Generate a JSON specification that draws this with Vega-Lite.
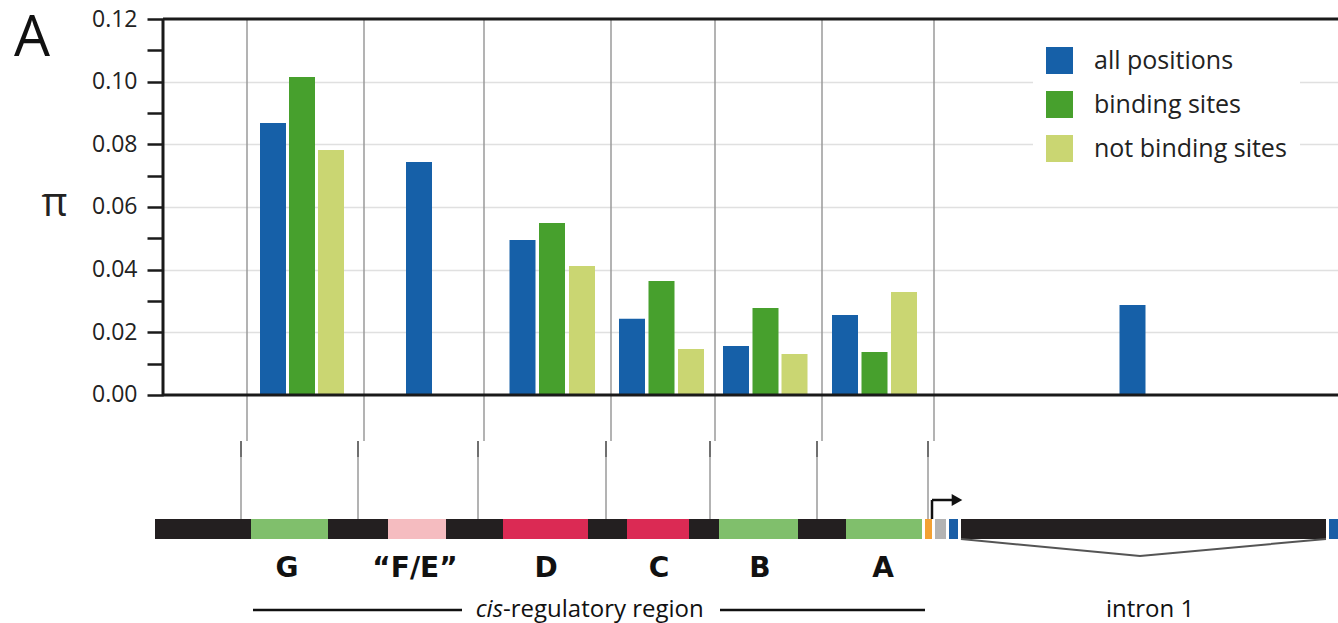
{
  "$schema": "https://vega.github.io/schema/vega-lite/v6.json",
  "autosize": {"type": "none"},
  "padding": {"left": 163, "top": 19, "right": 0, "bottom": 0},
  "width": 1177,
  "height": 604,
  "background": "white",
  "config": {"view": {"stroke": null}, "font": "Open Sans"},
  "resolve": {"scale": {"y": "independent", "color": "independent"}, "legend": {"color": "independent"}},
  "layer": [
    {
      "data": {"values": [
        {"u": 84, "d0": 0, "d1": 422}, {"u": 201, "d0": 0, "d1": 422}, {"u": 321, "d0": 0, "d1": 422}, {"u": 448, "d0": 0, "d1": 422}, {"u": 552, "d0": 0, "d1": 422}, {"u": 659, "d0": 0, "d1": 422}, {"u": 771, "d0": 0, "d1": 422},
        {"u": 78, "d0": 422, "d1": 500}, {"u": 195, "d0": 422, "d1": 500}, {"u": 315, "d0": 422, "d1": 500}, {"u": 443, "d0": 422, "d1": 500}, {"u": 547, "d0": 422, "d1": 500}, {"u": 654, "d0": 422, "d1": 500}, {"u": 765, "d0": 422, "d1": 500}
      ]},
      "mark": {"type": "rule", "color": "#9a9a9a", "strokeWidth": 1.5},
      "encoding": {
        "x": {"field": "u", "type": "quantitative", "scale": {"domain": [0, 1177], "padding": 0, "nice": false}, "axis": null},
        "y": {"field": "d0", "type": "quantitative", "scale": {"domain": [0, 604], "reverse": true, "nice": false}, "axis": null},
        "y2": {"field": "d1"}
      }
    },
    {
      "data": {"values": [
        {"u": 78, "d0": 422, "d1": 438}, {"u": 195, "d0": 422, "d1": 438}, {"u": 315, "d0": 422, "d1": 438}, {"u": 443, "d0": 422, "d1": 438}, {"u": 547, "d0": 422, "d1": 438}, {"u": 654, "d0": 422, "d1": 438}, {"u": 765, "d0": 422, "d1": 438}
      ]},
      "mark": {"type": "rule", "color": "#5a5a5a", "strokeWidth": 1.5},
      "encoding": {
        "x": {"field": "u", "type": "quantitative", "scale": {"domain": [0, 1177], "padding": 0, "nice": false}, "axis": null},
        "y": {"field": "d0", "type": "quantitative", "scale": {"domain": [0, 604], "reverse": true, "nice": false}, "axis": null},
        "y2": {"field": "d1"}
      }
    },
    {
      "data": {"values": [
        {"region": "G", "series": "all positions", "pi": 0.0868, "u": 110},
        {"region": "G", "series": "binding sites", "pi": 0.1015, "u": 139},
        {"region": "G", "series": "not binding sites", "pi": 0.0782, "u": 168},
        {"region": "F/E", "series": "all positions", "pi": 0.0744, "u": 256},
        {"region": "D", "series": "all positions", "pi": 0.0495, "u": 359.5},
        {"region": "D", "series": "binding sites", "pi": 0.0549, "u": 389},
        {"region": "D", "series": "not binding sites", "pi": 0.0412, "u": 419},
        {"region": "C", "series": "all positions", "pi": 0.0243, "u": 469},
        {"region": "C", "series": "binding sites", "pi": 0.0364, "u": 498.5},
        {"region": "C", "series": "not binding sites", "pi": 0.0147, "u": 528},
        {"region": "B", "series": "all positions", "pi": 0.0156, "u": 573},
        {"region": "B", "series": "binding sites", "pi": 0.0278, "u": 602.5},
        {"region": "B", "series": "not binding sites", "pi": 0.0131, "u": 631.5},
        {"region": "A", "series": "all positions", "pi": 0.0255, "u": 682},
        {"region": "A", "series": "binding sites", "pi": 0.0137, "u": 711.5},
        {"region": "A", "series": "not binding sites", "pi": 0.0329, "u": 741},
        {"region": "intron 1", "series": "all positions", "pi": 0.0287, "u": 969.5}
      ]},
      "mark": {"type": "bar", "width": 26},
      "encoding": {
        "x": {"field": "u", "type": "quantitative", "scale": {"domain": [0, 1177], "padding": 0, "nice": false}, "axis": null},
        "y": {
          "field": "pi", "type": "quantitative", "scale": {"domain": [-0.07277, 0.12], "nice": false, "zero": false},
          "axis": {
            "values": [0, 0.01, 0.02, 0.03, 0.04, 0.05, 0.06, 0.07, 0.08, 0.09, 0.1, 0.11, 0.12],
            "labelExpr": "round(datum.value*100) % 2 === 0 ? format(datum.value, '.2f') : ''",
            "labelFont": "Open Sans", "labelFontSize": 23, "labelColor": "#222222", "labelPadding": 10,
            "tickSize": 16, "tickWidth": 2.5, "tickColor": "#1a1a1a",
            "domain": false,
            "grid": true, "gridColor": "#e0e0e0", "gridWidth": 1.5,
            "gridOpacity": {"condition": {"test": "round(datum.value*100) % 2 === 0 && datum.value > 0.001 && datum.value < 0.119", "value": 1}, "value": 0},
            "title": "π", "titleAngle": 0, "titleFont": "Open Sans", "titleFontSize": 40, "titleFontWeight": "normal", "titleColor": "#222222",
            "titleX": -109, "titleY": 184, "titleAlign": "center", "titleBaseline": "middle"
          }
        },
        "color": {
          "field": "series", "type": "nominal",
          "scale": {"domain": ["all positions", "binding sites", "not binding sites"], "range": ["#1660a8", "#47a02d", "#cad672"]},
          "legend": {"orient": "none", "legendX": 870, "legendY": 15, "title": null, "symbolType": "square", "symbolSize": 729, "symbolStrokeWidth": 0, "symbolOpacity": 1, "labelFontSize": 25, "labelFont": "Open Sans", "labelColor": "#222222", "labelOffset": 21, "rowPadding": 17, "padding": 13, "fillColor": "white", "labelLimit": 400}
        }
      }
    },
    {
      "data": {"values": [{}]},
      "mark": {"type": "rule", "color": "#1a1a1a", "strokeWidth": 3},
      "encoding": {
        "y": {"datum": 0.12, "type": "quantitative", "scale": {"domain": [-0.07277, 0.12], "nice": false, "zero": false}, "axis": null}
      }
    },
    {
      "data": {"values": [{}]},
      "mark": {"type": "rule", "color": "#1a1a1a", "strokeWidth": 3},
      "encoding": {
        "y": {"datum": 0, "type": "quantitative", "scale": {"domain": [-0.07277, 0.12], "nice": false, "zero": false}, "axis": null}
      }
    },
    {
      "data": {"values": [{}]},
      "mark": {"type": "rule", "color": "#1a1a1a", "strokeWidth": 3},
      "encoding": {
        "x": {"datum": 0, "type": "quantitative", "scale": {"domain": [0, 1177], "padding": 0, "nice": false}, "axis": null},
        "y": {"datum": 0, "type": "quantitative", "scale": {"domain": [-0.07277, 0.12], "nice": false, "zero": false}, "axis": null},
        "y2": {"datum": 0.12}
      }
    },
    {
      "data": {"values": [
        {"kind": "spacer", "u0": -8, "u1": 88},
        {"kind": "G", "u0": 88, "u1": 165},
        {"kind": "spacer", "u0": 165, "u1": 225},
        {"kind": "F/E", "u0": 225, "u1": 283},
        {"kind": "spacer", "u0": 283, "u1": 340},
        {"kind": "D", "u0": 340, "u1": 425},
        {"kind": "spacer", "u0": 425, "u1": 464},
        {"kind": "C", "u0": 464, "u1": 526},
        {"kind": "spacer", "u0": 526, "u1": 556},
        {"kind": "B", "u0": 556, "u1": 635},
        {"kind": "spacer", "u0": 635, "u1": 683},
        {"kind": "A", "u0": 683, "u1": 759},
        {"kind": "promoter", "u0": 762, "u1": 769},
        {"kind": "5' UTR", "u0": 772, "u1": 783},
        {"kind": "exon", "u0": 786, "u1": 795},
        {"kind": "intron", "u0": 798, "u1": 1163},
        {"kind": "exon", "u0": 1166, "u1": 1180}
      ]},
      "mark": {"type": "rect"},
      "encoding": {
        "x": {"field": "u0", "type": "quantitative", "scale": {"domain": [0, 1177], "padding": 0, "nice": false}, "axis": null},
        "x2": {"field": "u1"},
        "y": {"datum": 500, "type": "quantitative", "scale": {"domain": [0, 604], "reverse": true, "nice": false}, "axis": null},
        "y2": {"datum": 520},
        "color": {
          "field": "kind", "type": "nominal", "legend": null,
          "scale": {"domain": ["spacer", "G", "F/E", "D", "C", "B", "A", "promoter", "5' UTR", "exon", "intron"], "range": ["#231f20", "#80bf6c", "#f5bcc0", "#db2a54", "#db2a54", "#80bf6c", "#80bf6c", "#f2a134", "#b3b3b3", "#1a5ea6", "#231f20"]}
        }
      }
    },
    {
      "data": {"values": [
        {"u0": 769, "u1": 769, "d0": 500, "d1": 481},
        {"u0": 769, "u1": 790, "d0": 481, "d1": 481},
        {"u0": 90, "u1": 299, "d0": 591, "d1": 591},
        {"u0": 557, "u1": 762, "d0": 591, "d1": 591}
      ]},
      "mark": {"type": "rule", "color": "#111111", "strokeWidth": 2.5},
      "encoding": {
        "x": {"field": "u0", "type": "quantitative", "scale": {"domain": [0, 1177], "padding": 0, "nice": false}, "axis": null},
        "x2": {"field": "u1"},
        "y": {"field": "d0", "type": "quantitative", "scale": {"domain": [0, 604], "reverse": true, "nice": false}, "axis": null},
        "y2": {"field": "d1"}
      }
    },
    {
      "data": {"values": [{"u": 794, "d": 481}]},
      "mark": {"type": "point", "shape": "triangle-right", "size": 150, "filled": true, "color": "#111111", "opacity": 1},
      "encoding": {
        "x": {"field": "u", "type": "quantitative", "scale": {"domain": [0, 1177], "padding": 0, "nice": false}, "axis": null},
        "y": {"field": "d", "type": "quantitative", "scale": {"domain": [0, 604], "reverse": true, "nice": false}, "axis": null}
      }
    },
    {
      "data": {"values": [{"u": 798, "d": 520, "o": 1}, {"u": 977, "d": 537, "o": 2}, {"u": 1163, "d": 520, "o": 3}]},
      "mark": {"type": "line", "color": "#555555", "strokeWidth": 2},
      "encoding": {
        "x": {"field": "u", "type": "quantitative", "scale": {"domain": [0, 1177], "padding": 0, "nice": false}, "axis": null},
        "y": {"field": "d", "type": "quantitative", "scale": {"domain": [0, 604], "reverse": true, "nice": false}, "axis": null},
        "order": {"field": "o"}
      }
    },
    {
      "data": {"values": [{"label": "G", "u": 124}, {"label": "“F/E”", "u": 252}, {"label": "D", "u": 383}, {"label": "C", "u": 496}, {"label": "B", "u": 597}, {"label": "A", "u": 720}]},
      "mark": {"type": "text", "font": "DejaVu Sans", "fontWeight": "bold", "fontSize": 28, "color": "#111111", "align": "center", "baseline": "alphabetic"},
      "encoding": {
        "x": {"field": "u", "type": "quantitative", "scale": {"domain": [0, 1177], "padding": 0, "nice": false}, "axis": null},
        "y": {"datum": 558, "type": "quantitative", "scale": {"domain": [0, 604], "reverse": true, "nice": false}, "axis": null},
        "text": {"field": "label"}
      }
    },
    {
      "data": {"values": [{"t": "cis", "u": 340}]},
      "mark": {"type": "text", "font": "Open Sans", "fontStyle": "italic", "fontSize": 24, "color": "#111111", "align": "right", "baseline": "alphabetic"},
      "encoding": {
        "x": {"field": "u", "type": "quantitative", "scale": {"domain": [0, 1177], "padding": 0, "nice": false}, "axis": null},
        "y": {"datum": 598, "type": "quantitative", "scale": {"domain": [0, 604], "reverse": true, "nice": false}, "axis": null},
        "text": {"field": "t"}
      }
    },
    {
      "data": {"values": [{"t": "-regulatory region", "u": 340, "a": "left"}, {"t": "intron 1", "u": 987, "a": "center"}]},
      "mark": {"type": "text", "font": "Open Sans", "fontSize": 24, "color": "#111111", "baseline": "alphabetic", "align": {"expr": "datum.a"}},
      "encoding": {
        "x": {"field": "u", "type": "quantitative", "scale": {"domain": [0, 1177], "padding": 0, "nice": false}, "axis": null},
        "y": {"datum": 598, "type": "quantitative", "scale": {"domain": [0, 604], "reverse": true, "nice": false}, "axis": null},
        "text": {"field": "t"}
      }
    },
    {
      "data": {"values": [{"t": "A", "u": -149}]},
      "mark": {"type": "text", "font": "Open Sans", "fontSize": 57, "color": "#111111", "align": "left", "baseline": "alphabetic"},
      "encoding": {
        "x": {"field": "u", "type": "quantitative", "scale": {"domain": [0, 1177], "padding": 0, "nice": false}, "axis": null},
        "y": {"datum": 37, "type": "quantitative", "scale": {"domain": [0, 604], "reverse": true, "nice": false}, "axis": null},
        "text": {"field": "t"}
      }
    }
  ]
}
